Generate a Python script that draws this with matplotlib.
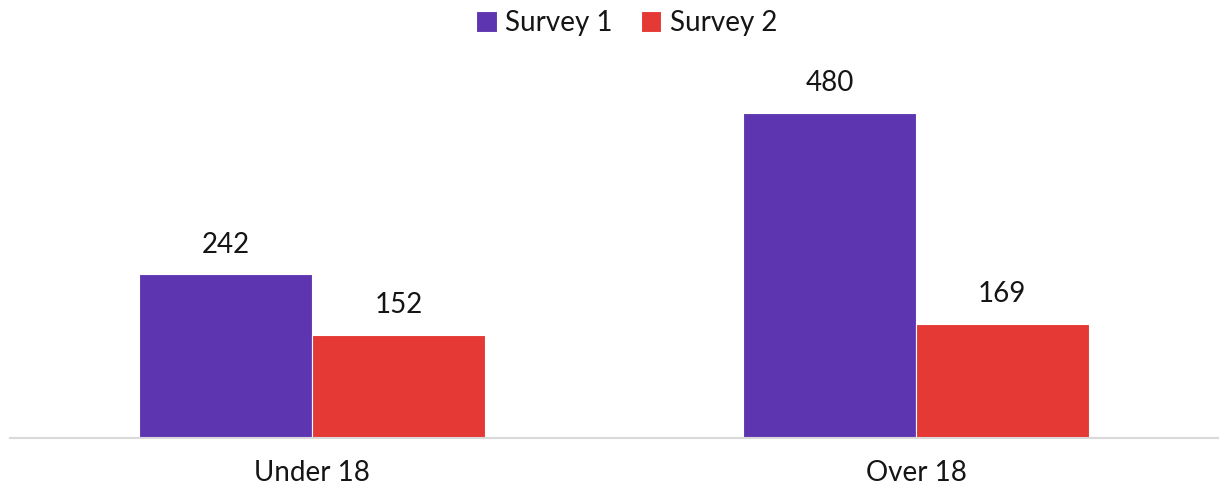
import numpy as np
import matplotlib.pyplot as plt

groups = ['Under 18', 'Over 18']
survey1 = [242, 480]
survey2 = [152, 169]

plt.rcParams['font.family'] = ['Lato', 'DejaVu Sans']

purple = '#5E35B1'
red = '#E53935'

fig = plt.figure(figsize=(12.24, 4.95), dpi=100)
ax = fig.add_axes([10 / 1224, 57 / 495, 1208 / 1224, 379 / 495])

x = np.arange(len(groups))
w = 0.286
b1 = ax.bar(x - w / 2, survey1, w, color=purple, edgecolor='white', linewidth=0.8, label='Survey 1')
b2 = ax.bar(x + w / 2, survey2, w, color=red, edgecolor='white', linewidth=0.8, label='Survey 2')

# value labels above each bar
for bars in (b1, b2):
    for rect in bars:
        h = rect.get_height()
        ax.annotate(f'{h:g}', (rect.get_x() + rect.get_width() / 2, h),
                    xytext=(0, 12), textcoords='offset points',
                    ha='center', va='bottom', fontsize=20, color='#151515')

ax.set_xlim(-0.5, 1.5)
ax.set_ylim(0, 560)
ax.set_xticks(x)
ax.set_xticklabels(groups, fontsize=20, color='#151515')
ax.tick_params(axis='x', length=0, pad=16)
ax.set_yticks([])
for s in ['top', 'right', 'left']:
    ax.spines[s].set_visible(False)
ax.spines['bottom'].set_color('#d9d9d9')
ax.spines['bottom'].set_linewidth(1.5)

fig.legend(loc='upper center', bbox_to_anchor=(0.512, 1.03), ncol=2, frameon=False,
           fontsize=20, handlelength=0.75, handleheight=0.75, handletextpad=0.3,
           columnspacing=1.0, labelcolor='#151515')

fig.savefig('out.png', dpi=100)
